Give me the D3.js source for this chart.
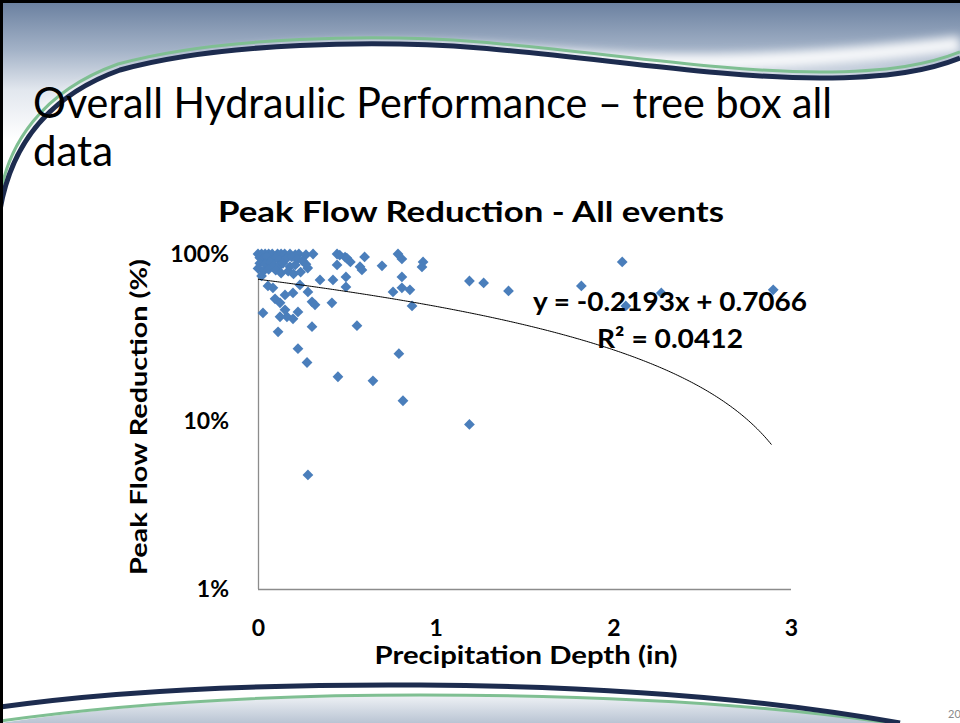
<!DOCTYPE html>
<html><head><meta charset="utf-8">
<script src="https://cdn.jsdelivr.net/npm/d3@7"></script>
<style>body{margin:0;background:#fff;overflow:hidden} svg{display:block}</style>
</head><body>
<script>
// ---- data ----
const precipitation = [
 0.00,0.02,0.04,0.06,0.08,0.11,0.13,0.15,0.18,0.21,0.23,0.27,0.31,
 0.01,0.03,0.05,0.08,0.10,0.12,0.16,0.19,0.22,0.25,
 0.01,0.04,0.07,0.09,0.12,0.14,0.18,0.21,0.27,
 0.00,0.03,0.06,0.10,0.13,0.17,0.20,0.28,0.24,0.02,
 0.445,0.46,0.49,0.50,0.52,0.445,0.60,0.574,0.585,0.698,0.788,0.81,0.929,0.923,
 0.349,0.422,0.495,0.495,0.416,0.81,0.76,0.81,0.855,0.867,
 0.557,0.793,0.45,0.647,0.816,0.304,0.225,0.276,0.113,0.028,
 0.056,0.084,0.096,0.124,0.152,0.197,0.236,0.281,0.304,0.321,
 0.124,0.163,0.197,0.225,0.152,0.281,
 1.19,1.27,1.41,1.82,2.05,2.07,2.27,2.90,1.19
];
const peakReduction = [
 100,100,100,100,100,100,100,100,100,99,100,99,100,
 95,94,96,93,95,92,94,96,93,91,
 88,87,89,86,85,88,84,86,87,
 82,79,81,80,77,79,76,82.5,78,74,
 100,98.6,95.9,94.6,89.6,86,96,84,80.3,85,100,93.4,89.6,83.7,
 70,70,73,63.6,51.1,73,59.4,62.8,61.1,49,
 37.3,25.4,18.5,17.5,13.3,36.8,27.2,22.5,34.3,44.5,
 64.5,62.8,54,51.1,57,58.6,65.4,59.4,51.8,49.7,
 42.2,42.2,41,45.1,46.4,4.8,
 69,67.2,60.2,64.5,89.6,49,58.6,61.1,9.6
];
const xTickValues = [0,1,2,3];
const yTickValues = [1,10,100];
const yTickLabels = ["1%","10%","100%"];
const trendSlope = -0.2193, trendIntercept = 0.7066, trendR2 = "0.0412";
const trendXMax = 2.89;

const W = 960, H = 723;
const svg = d3.select("body").append("svg").attr("width", W).attr("height", H);
const defs = svg.append("defs");

// ---- slide background ----
const tg = defs.append("linearGradient").attr("id","topGrad").attr("gradientUnits","userSpaceOnUse")
  .attr("x1",0).attr("y1",0).attr("x2",0).attr("y2",200);
tg.append("stop").attr("offset","0%").attr("stop-color","#687e9e");
tg.append("stop").attr("offset","25%").attr("stop-color","#a3b2c7");
tg.append("stop").attr("offset","45%").attr("stop-color","#e2e7ee");
tg.append("stop").attr("offset","70%").attr("stop-color","#ffffff");
const bg = defs.append("linearGradient").attr("id","botGrad").attr("x1",0).attr("y1",0).attr("x2",0).attr("y2",1);
bg.append("stop").attr("offset","0%").attr("stop-color","#eef1f5");
bg.append("stop").attr("offset","100%").attr("stop-color","#b9c4d3");
defs.append("filter").attr("id","blur").attr("x","-20%").attr("y","-50%").attr("width","140%").attr("height","200%")
  .append("feGaussianBlur").attr("stdDeviation",5);

svg.append("rect").attr("width",W).attr("height",H).attr("fill","#fff");
svg.append("path")
  .attr("d","M0,0 H960 V58 C930,70 890,80 820,80 C720,80 600,58 480,48 C380,40 220,42 120,70 C40,96 10,150 0,212 Z")
  .attr("fill","url(#topGrad)");
// soft white swoosh above the dark line
svg.append("path")
  .attr("d","M40,120 C90,80 200,55 340,50 C470,46 560,60 660,62 C760,64 860,56 960,44")
  .attr("fill","none").attr("stroke","#ffffff").attr("stroke-width",16).attr("opacity",0.9).attr("filter","url(#blur)");
svg.append("path")
  .attr("d","M0,196 C8,146 40,92 118,64 C220,36 380,34 480,42 C600,52 720,72 820,72 C890,72 930,64 960,52")
  .attr("fill","none").attr("stroke","#7fbf92").attr("stroke-width",3);
svg.append("path")
  .attr("d","M0,210 C10,152 42,98 120,70 C220,42 380,40 480,48 C600,58 720,78 820,78 C890,78 930,70 960,58")
  .attr("fill","none").attr("stroke","#1d2c4f").attr("stroke-width",5);

// bottom swoosh
svg.append("path")
  .attr("d","M0,723 C120,705 260,696 420,696 C600,696 760,705 890,723 Z")
  .attr("fill","url(#botGrad)");
svg.append("path")
  .attr("d","M0,721 C120,704 260,695 420,695 C600,695 760,704 890,723")
  .attr("fill","none").attr("stroke","#7fbf92").attr("stroke-width",3);
svg.append("path")
  .attr("d","M0,707 C120,690 260,684 420,685 C600,686 760,698 900,723")
  .attr("fill","none").attr("stroke","#1d2c4f").attr("stroke-width",5);
svg.append("text").attr("x",948).attr("y",718).attr("font-family","Lato, sans-serif")
  .attr("font-size",11).attr("fill","#8a8a8a").text("20");

// frame edges
svg.append("rect").attr("x",0).attr("y",0).attr("width",3).attr("height",H).attr("fill","#000");
svg.append("rect").attr("x",0).attr("y",0).attr("width",W).attr("height",3).attr("fill","#000");

// ---- slide title ----
const titleFont = "Lato, 'Open Sans', sans-serif";
svg.append("text").attr("x",33).attr("y",118).attr("font-family",titleFont).attr("font-size",42)
  .attr("fill","#000").attr("textLength",799).attr("lengthAdjust","spacingAndGlyphs")
  .text("Overall Hydraulic Performance – tree box all");
svg.append("text").attr("x",33).attr("y",166).attr("font-family",titleFont).attr("font-size",42)
  .attr("fill","#000").text("data");

// ---- chart ----
const x = d3.scaleLinear().domain([0,3]).range([258,791]);
const y = d3.scaleLog().domain([1,100]).range([589,254]);
const bold = "Lato, 'Open Sans', sans-serif";

svg.append("text").attr("x",471).attr("y",222).attr("text-anchor","middle")
  .attr("font-family",bold).attr("font-weight","bold").attr("font-size",29)
  .attr("textLength",506).attr("lengthAdjust","spacingAndGlyphs")
  .text("Peak Flow Reduction - All events");

const yAxis = svg.append("g").attr("transform","translate(258,0)")
  .call(d3.axisLeft(y).tickValues(yTickValues).tickFormat((d,i)=>yTickLabels[i]).tickSize(0).tickPadding(29));
const xAxis = svg.append("g").attr("transform","translate(0,589)")
  .call(d3.axisBottom(x).tickValues(xTickValues).tickFormat(d3.format("d")).tickSize(0).tickPadding(31));
[yAxis,xAxis].forEach(g=>{
  g.select(".domain").attr("stroke","#8c8c8c").attr("stroke-width",1.3);
  g.selectAll("text").attr("font-family",bold).attr("font-weight","bold").attr("font-size",23).attr("fill","#000");
});
xAxis.select(".domain").attr("d","M258,0.5H791");
yAxis.select(".domain").attr("d","M0.5,254V589");

svg.append("text").attr("x",526).attr("y",664).attr("text-anchor","middle")
  .attr("font-family",bold).attr("font-weight","bold").attr("font-size",25)
  .attr("textLength",303).attr("lengthAdjust","spacingAndGlyphs")
  .text("Precipitation Depth (in)");
svg.append("text").attr("transform","translate(147,417) rotate(-90)").attr("text-anchor","middle")
  .attr("font-family",bold).attr("font-weight","bold").attr("font-size",23)
  .attr("textLength",316).attr("lengthAdjust","spacingAndGlyphs")
  .text("Peak Flow Reduction (%)");

// points
const pts = precipitation.map((p,i)=>({p, r: peakReduction[i]}));
const sym = d3.symbol().type(d3.symbolSquare).size(58);
svg.append("g").selectAll("path").data(pts).join("path")
  .attr("d", sym)
  .attr("transform", d=>`translate(${x(d.p)},${y(d.r)}) rotate(45)`)
  .attr("fill","#4a7ebb");

// trend line (from fitted equation)
const trendX = d3.range(0, trendXMax + 1e-9, 0.01);
const line = d3.line().x(d=>x(d)).y(d=>y((trendSlope*d + trendIntercept)*100));
svg.append("path").datum(trendX).attr("d", line).attr("fill","none").attr("stroke","#000").attr("stroke-width",1);

svg.append("text").attr("x",533).attr("y",311)
  .attr("font-family",bold).attr("font-weight","bold").attr("font-size",26)
  .attr("textLength",274).attr("lengthAdjust","spacingAndGlyphs")
  .text(`y = ${trendSlope}x + ${trendIntercept}`);
svg.append("text").attr("x",597).attr("y",348)
  .attr("font-family",bold).attr("font-weight","bold").attr("font-size",26)
  .attr("textLength",146).attr("lengthAdjust","spacingAndGlyphs")
  .text(`R² = ${trendR2}`);
</script>
</body></html>
